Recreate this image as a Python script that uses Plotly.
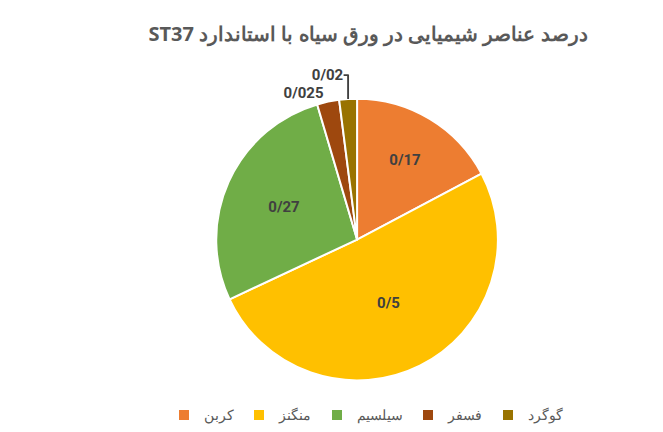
import plotly.graph_objects as go

categories = ["کربن", "منگنز", "سیلسیم", "فسفر", "گوگرد"]
values = [0.17, 0.5, 0.27, 0.025, 0.02]
value_labels = ["0/17", "0/5", "0/27", "0/025", "0/02"]
colors = ["#ED7D31", "#FFC000", "#70AD47", "#9E480E", "#997300"]

fig = go.Figure(go.Pie(
    labels=categories, values=values, text=value_labels,
    textinfo="text", sort=False, direction="clockwise", rotation=0,
    marker=dict(colors=colors, line=dict(color="white", width=2)),
    textposition=["inside", "inside", "inside", "outside", "outside"],
    insidetextorientation="horizontal",
    textfont=dict(family="Roboto", size=15, color="#404040"),
    outsidetextfont=dict(family="Roboto", size=15, color="#404040"),
    domain=dict(x=[0.314, 0.739], y=[0.138, 0.790]),
    automargin=False,
))
fig.update_traces(texttemplate="<b>%{text}</b>")
fig.update_layout(
    width=663, height=432,
    margin=dict(l=0, r=0, t=0, b=0),
    paper_bgcolor="white",
    title=dict(text="<b>ST37 درصد عناصر شیمیایی در ورق سیاه با استاندارد</b>",
               x=0.543, xanchor="center", y=0.94, yanchor="middle",
               font=dict(family="Noto Sans", size=20, color="#595959")),
    legend=dict(orientation="h", x=0.54, xanchor="center", y=0.02, yanchor="bottom",
                font=dict(family="Noto Sans", size=14, color="#595959")),
)
fig.write_html("out.html")
